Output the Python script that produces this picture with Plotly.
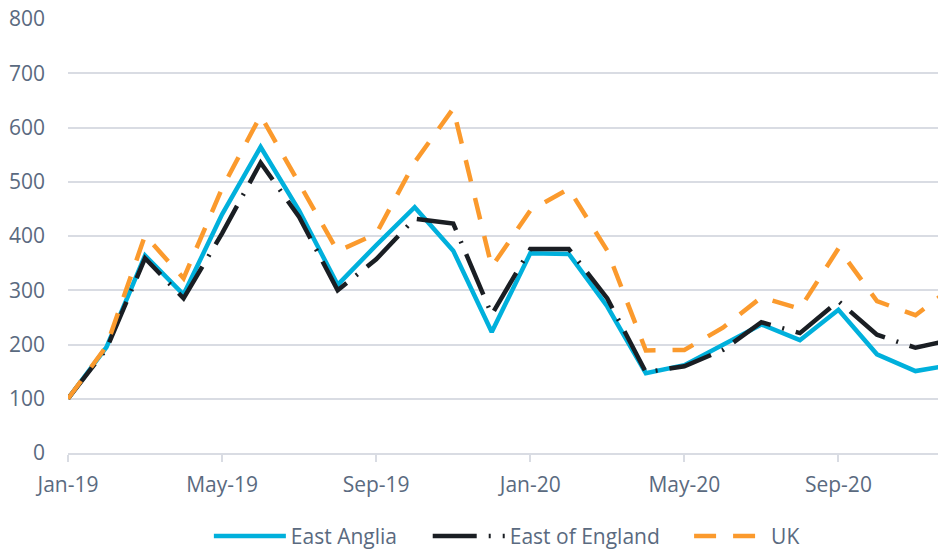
import plotly.graph_objects as go

months = ["Jan-19", "Feb-19", "Mar-19", "Apr-19", "May-19", "Jun-19", "Jul-19", "Aug-19",
          "Sep-19", "Oct-19", "Nov-19", "Dec-19", "Jan-20", "Feb-20", "Mar-20", "Apr-20",
          "May-20", "Jun-20", "Jul-20", "Aug-20", "Sep-20", "Oct-20", "Nov-20", "Dec-20"]
east_anglia = [100, 195, 364, 292, 440, 564, 447, 310, 383, 453, 373, 223,
               368, 367, 270, 147, 162, 200, 237, 208, 264, 182, 151, 163]
east_of_england = [100, 192, 359, 285, 405, 535, 435, 300, 357, 432, 423, 255,
                   376, 376, 285, 149, 160, 190, 241, 221, 280, 218, 194, 210]
uk = [100, 197, 401, 322, 488, 622, 497, 372, 404, 536, 635, 343,
      447, 487, 373, 189, 190, 231, 287, 266, 377, 280, 254, 308]
tick_months = ["Jan-19", "May-19", "Sep-19", "Jan-20", "May-20", "Sep-20"]
y_ticks = [0, 100, 200, 300, 400, 500, 600, 700, 800]

FONT = "Open Sans"
TXT = "#5a6a80"
GRID = "#d9dce3"

fig = go.Figure()
fig.add_trace(go.Scatter(x=months, y=east_anglia, name="East Anglia", mode="lines",
                         legend="legend",
                         line=dict(color="#00b0dc", width=4.5)))
fig.add_trace(go.Scatter(x=months, y=east_of_england, name="East of England", mode="lines",
                         legend="legend2",
                         line=dict(color="#1a1e23", width=4.5, dash="44px,12px,2px,12px")))
fig.add_trace(go.Scatter(x=months, y=uk, name="UK", mode="lines",
                         legend="legend3",
                         line=dict(color="#fb9a2d", width=4.5, dash="22px,17px")))

leg_common = dict(orientation="h", xanchor="left", y=-0.192, yanchor="middle",
                  font=dict(family=FONT, size=21, color=TXT), itemwidth=72,
                  bgcolor="rgba(0,0,0,0)")

# page body has an 8px offset; compensate in margins
fig.update_layout(
    width=946, height=549,
    margin=dict(l=60, r=0, t=11, b=104, autoexpand=False),
    paper_bgcolor="white", plot_bgcolor="white",
    font=dict(family=FONT, size=21, color=TXT),
    showlegend=True,
    legend=dict(x=0.159, **leg_common),
    legend2=dict(x=0.406, **leg_common),
    legend3=dict(x=0.701, **leg_common),
)
fig.update_xaxes(
    type="category", range=[0, 23.0], automargin=False,
    tickmode="array", tickvals=tick_months, ticktext=tick_months,
    showgrid=False, zeroline=False,
    showline=True, linecolor=GRID, linewidth=2,
    ticks="outside", ticklen=7, tickcolor=GRID, tickwidth=2,
    ticklabelstandoff=5, ticklabeloverflow="allow",
    tickfont=dict(family=FONT, size=21, color=TXT),
)
fig.update_yaxes(
    range=[0, 800], tickmode="array", tickvals=y_ticks, automargin=False,
    showgrid=True, gridcolor=GRID, gridwidth=2,
    zeroline=False, showline=False, ticks="",
    ticklabelstandoff=22, ticklabeloverflow="allow",
    tickfont=dict(family=FONT, size=21, color=TXT),
)

fig.write_html("out.html")
